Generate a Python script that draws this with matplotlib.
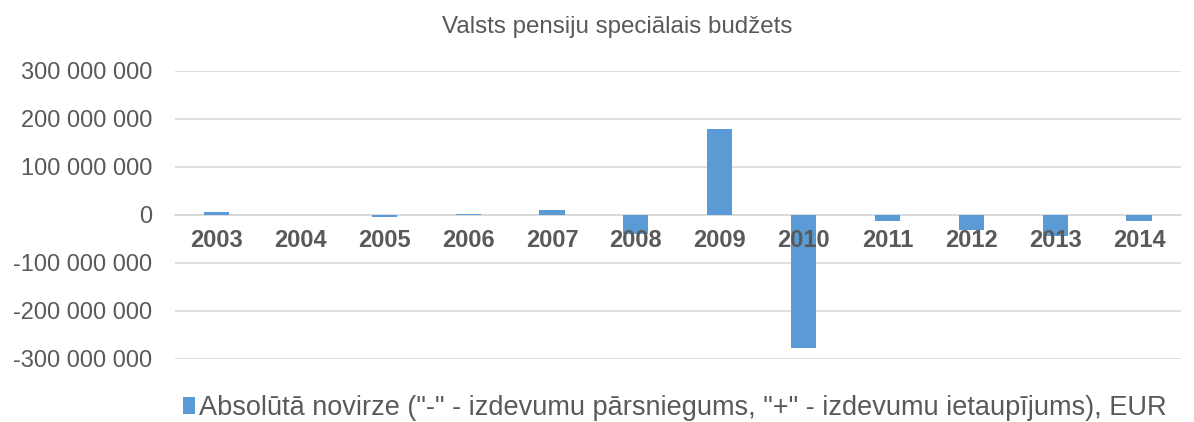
import matplotlib
matplotlib.use("Agg")
import matplotlib.pyplot as plt
from matplotlib.ticker import FuncFormatter
from matplotlib.patches import Patch

years = ["2003", "2004", "2005", "2006", "2007", "2008", "2009", "2010", "2011", "2012", "2013", "2014"]
values = [7e6, -1e6, -5e6, 2.5e6, 11e6, -40e6, 179e6, -278e6, -12.5e6, -30.5e6, -43e6, -12.5e6]
yticks = [-300e6, -200e6, -100e6, 0, 100e6, 200e6, 300e6]
title = "Valsts pensiju speciālais budžets"
legend_label = 'Absolūtā novirze ("-" - izdevumu pārsniegums, "+" - izdevumu ietaupījums), EUR'

plt.rcParams['font.family'] = ['Liberation Sans', 'DejaVu Sans']
bar_color = "#5B9BD5"
text_color = "#595959"

fig = plt.figure(figsize=(11.94, 4.22), dpi=100)
ax = fig.add_axes([0.1464, 0.1493, 0.8426, 0.6825])

x = list(range(len(years)))
ax.bar(x, values, width=0.3, color=bar_color, zorder=2)
ax.set_xlim(-0.5, len(years) - 0.5)
ax.set_ylim(-300e6, 300e6)
ax.set_yticks(yticks)
ax.yaxis.set_major_formatter(FuncFormatter(lambda v, p: f"{int(round(v)):,}".replace(",", " ")))
ax.grid(axis='y', color="#D9D9D9", linewidth=1.2, zorder=0)
ax.set_axisbelow(True)
ax.xaxis.set_zorder(5)

for s in ['top', 'right', 'left']:
    ax.spines[s].set_visible(False)
ax.spines['bottom'].set_position(('data', 0))
ax.spines['bottom'].set_color("#D9D9D9")
ax.spines['bottom'].set_linewidth(1.2)
ax.spines['bottom'].set_zorder(1)

ax.set_xticks(x)
ax.set_xticklabels(years, fontsize=17, fontweight='bold', color=text_color)
ax.tick_params(axis='x', length=0, pad=10)
ax.tick_params(axis='y', length=0, pad=16, labelsize=17, labelcolor=text_color)

fig.text(0.517, 0.935, title, ha='center', va='center', fontsize=17.4, color=text_color)

handle = Patch(facecolor=bar_color, edgecolor='none')
fig.legend([handle], [legend_label], loc='center', bbox_to_anchor=(0.565, 0.033),
           frameon=False, fontsize=19.5, labelcolor=text_color,
           handlelength=0.45, handleheight=0.6, handletextpad=0.15)

fig.savefig("out.png", dpi=100)
